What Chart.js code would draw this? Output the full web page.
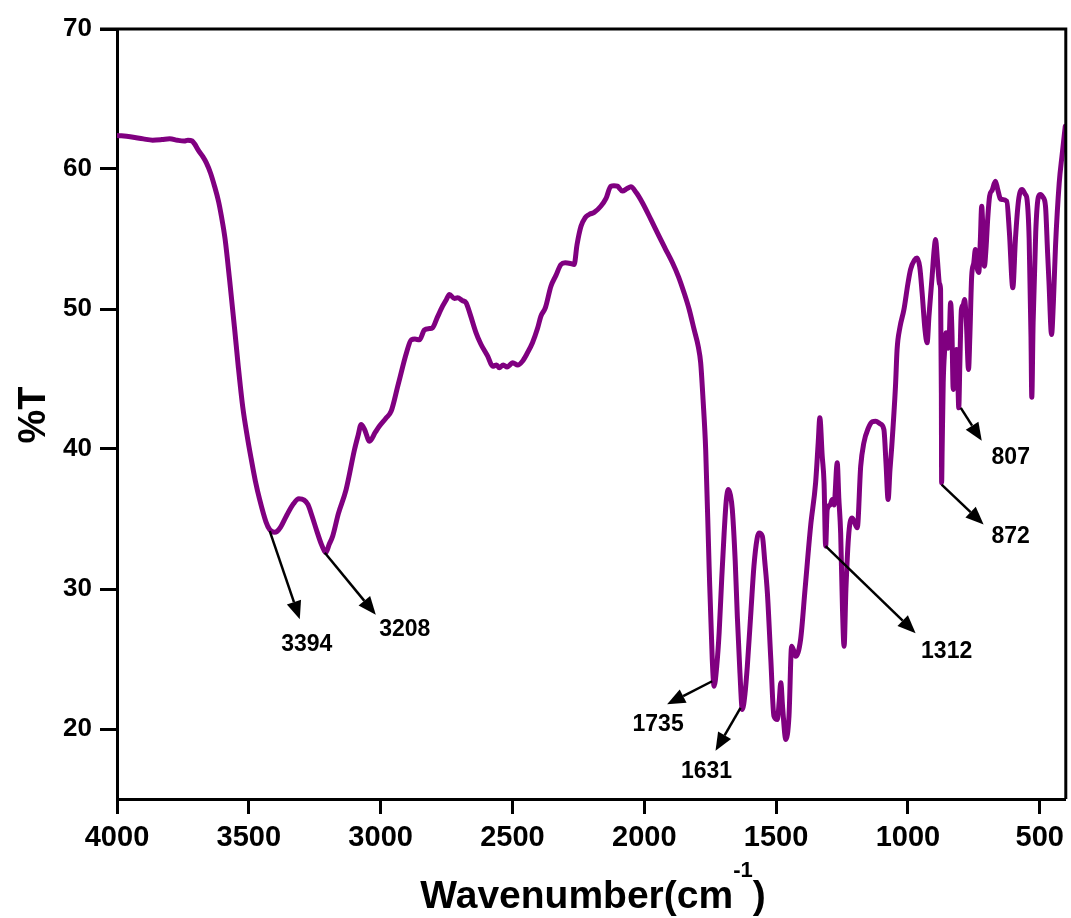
<!DOCTYPE html>
<html>
<head>
<meta charset="utf-8">
<script src="https://cdn.jsdelivr.net/npm/chart.js@4.4.1/dist/chart.umd.min.js"></script>
<style>
  html, body { margin: 0; padding: 0; background: #ffffff; }
  #wrap { width: 1071px; height: 918px; position: relative; }
</style>
</head>
<body>
<div id="wrap"><canvas id="c" width="1071" height="918"></canvas></div>
<script>
// ---------------- DATA ----------------
const wavenumbers = [
  4000, 3950, 3900, 3865, 3830, 3800, 3770, 3745, 3731, 3715, 3706, 3690, 3675, 3661, 3645, 3630, 3615, 3604, 3590, 3573,
  3554, 3540, 3523, 3505, 3491, 3475, 3459, 3435, 3421, 3402, 3394, 3380, 3358, 3330, 3310, 3290, 3276, 3260, 3244, 3225,
  3213, 3208, 3195, 3182, 3160, 3131, 3099, 3085, 3074, 3061, 3042, 3020, 3005, 2980, 2960, 2935, 2916, 2903, 2884, 2870,
  2853, 2834, 2815, 2803, 2785, 2765, 2750, 2739, 2720, 2708, 2690, 2676, 2660, 2638, 2620, 2594, 2575, 2560, 2550, 2535,
  2520, 2510, 2499, 2480, 2462, 2445, 2424, 2405, 2392, 2375, 2354, 2335, 2316, 2300, 2280, 2266, 2255, 2240, 2225, 2209,
  2190, 2165, 2145, 2127, 2115, 2102, 2083, 2065, 2051, 2030, 2007, 1975, 1944, 1920, 1893, 1870, 1849, 1830, 1811, 1795,
  1786, 1777, 1767, 1754, 1742, 1735, 1725, 1716, 1706, 1697, 1689, 1681, 1673, 1666, 1655, 1647, 1637, 1628, 1618, 1609,
  1595, 1584, 1572, 1565, 1552, 1543, 1533, 1520, 1508, 1495, 1488, 1482, 1475, 1463, 1451, 1441, 1433, 1426, 1407, 1390,
  1369, 1350, 1340, 1334, 1325, 1318, 1312, 1306, 1295, 1287, 1280, 1268, 1262, 1255, 1248, 1242, 1235, 1224, 1211, 1192,
  1179, 1167, 1150, 1135, 1122, 1105, 1091, 1083, 1075, 1068, 1062, 1047, 1041, 1030, 1015, 1000, 990, 975, 965, 955,
  946, 935, 927, 920, 908, 900, 895, 888, 880, 876, 873, 872, 870, 866, 860, 855, 848, 843, 838, 833,
  828, 822, 816, 810, 807, 803, 797, 790, 785, 778, 770, 765, 758, 750, 744, 738, 731, 725, 720, 716,
  710, 703, 697, 690, 680, 668, 660, 650, 643, 625, 615, 602, 592, 580, 567, 555, 548, 540, 533, 530,
  525, 515, 505, 497, 488, 478, 470, 465, 455, 448, 440, 426, 415, 403
];
const transmittance = [
  62.4, 62.3, 62.15, 62.06, 62.1, 62.16, 62.05, 62.0, 62.06, 62.0, 61.8, 61.3, 60.9, 60.44, 59.7, 58.77, 57.7, 56.63, 55.0, 52.1,
  48.6, 45.9, 43.0, 40.8, 39.3, 37.7, 36.4, 34.8, 34.25, 34.06, 34.1, 34.4, 35.2, 36.1, 36.44, 36.35, 36.04, 35.2, 34.25, 33.2,
  32.7, 32.6, 33.2, 33.77, 35.4, 37.1, 39.96, 41.0, 41.75, 41.39, 40.56, 41.2, 41.63, 42.2, 42.7, 44.49, 45.9, 46.8, 47.8, 47.85,
  47.8, 48.5, 48.6, 48.66, 49.4, 50.2, 50.7, 51.04, 50.75, 50.8, 50.6, 50.44, 49.6, 48.3, 47.5, 46.63, 45.91, 46.0, 45.8, 46.0,
  45.85, 46.0, 46.16, 46.0, 46.27, 46.8, 47.59, 48.6, 49.49, 50.1, 51.63, 52.4, 53.18, 53.3, 53.25, 53.18, 54.6, 55.91, 56.5, 56.75,
  56.9, 57.34, 57.9, 58.77, 58.8, 58.77, 58.42, 58.6, 58.73, 58.3, 57.59, 56.4, 55.2, 54.3, 53.3, 52.3, 51.16, 50.0, 48.54, 47.3,
  46.16, 43.54, 39.96, 31.63, 24.96, 23.06, 24.5, 26.87, 30.8, 34.0, 36.3, 37.11, 36.7, 35.68, 32.0, 28.06, 24.0, 21.39, 22.5, 24.49,
  28.5, 31.63, 33.6, 34.0, 33.77, 32.0, 29.73, 25.0, 20.92, 20.68, 22.0, 23.3, 21.5, 19.25, 20.92, 25.91, 25.6, 25.2, 26.39, 30.0,
  34.49, 37.59, 40.5, 42.23, 39.5, 37.59, 33.06, 35.68, 36.0, 36.39, 36.0, 39.01, 36.5, 34.0, 28.5, 25.91, 30.0, 34.0, 35.08, 34.37,
  38.77, 40.44, 41.5, 41.95, 41.99, 41.8, 41.39, 39.0, 36.39, 38.5, 39.96, 44.5, 47.1, 48.7, 49.96, 51.8, 52.82, 53.5, 53.65, 53.0,
  51.16, 48.5, 47.59, 49.5, 52.35, 54.3, 54.96, 53.5, 51.8, 51.39, 44.0, 37.59, 40.0, 44.7, 47.2, 48.3, 47.2, 48.0, 50.44, 48.5,
  44.25, 46.0, 47.11, 44.5, 42.94, 46.0, 49.96, 50.3, 50.68, 49.0, 45.68, 48.0, 52.35, 53.3, 54.25, 53.0, 52.6, 55.0, 57.34, 56.0,
  53.06, 54.5, 56.5, 58.06, 58.5, 59.13, 58.6, 57.9, 57.82, 57.7, 55.5, 51.51, 55.0, 57.8, 58.54, 58.2, 57.82, 55.0, 48.0, 43.7,
  49.0, 55.5, 58.0, 58.18, 58.0, 57.34, 54.0, 52.0, 48.18, 50.5, 54.5, 59.0, 61.0, 63.06
];
const xTickValues = [4000, 3500, 3000, 2500, 2000, 1500, 1000, 500];
const yTickValues = [20, 30, 40, 50, 60, 70];
const peakLabels = ['3394', '3208', '1735', '1631', '1312', '872', '807'];
const peakWavenumbers = [3394, 3208, 1735, 1631, 1312, 872, 807];
const peakTransmittance = [34.13, 32.59, 23.41, 21.51, 33.06, 37.46, 42.94];
const xTitle = 'Wavenumber(cm';
const xTitleSup = '-1';
const yTitle = '%T';

// ---------------- LAYOUT / STYLE ----------------
// pixel offsets relative to the peak point: [startDx, tipDx, tipDy, labelDx, labelDy]
const arrowLayout = [
  [-7, 23, 88, 30, 113],
  [-1, 50, 62, 79, 77],
  [-2, -47, 23, -56, 43],
  [-1, -26, 43, -35, 64],
  [0, 90, 87, 121, 105],
  [0, 42, 40, 69, 52],
  [2, 23, 33, 52, 50]
];
const FONT = "'Liberation Sans', Arial, Helvetica, sans-serif";
const LINE_COLOR = '#800080';

const points = wavenumbers.map((w, i) => ({ x: w, y: transmittance[i] }));

const annotationPlugin = {
  id: 'irAnnotations',
  afterDraw(chart) {
    const ctx = chart.ctx;
    const xs = chart.scales.x, ys = chart.scales.y;
    const ca = chart.chartArea;
    ctx.save();
    // box top and right
    ctx.strokeStyle = '#000';
    ctx.lineWidth = 3;
    ctx.beginPath();
    ctx.moveTo(ca.left - 17, ca.top);
    ctx.lineTo(ca.right, ca.top);
    ctx.lineTo(ca.right, ca.bottom);
    ctx.stroke();

    // arrows
    peakWavenumbers.forEach((w, i) => {
      const px = xs.getPixelForValue(w);
      const py = ys.getPixelForValue(peakTransmittance[i]);
      const [sdx, tdx, tdy, ldx, ldy] = arrowLayout[i];
      const sx = px + sdx, sy = py;
      const tx = px + tdx, ty = py + tdy;
      const ang = Math.atan2(ty - sy, tx - sx);
      const headLen = 18, headW = 7.5;
      const bx = tx - headLen * Math.cos(ang), by = ty - headLen * Math.sin(ang);
      ctx.strokeStyle = '#000';
      ctx.fillStyle = '#000';
      ctx.lineWidth = 2.5;
      ctx.beginPath();
      ctx.moveTo(sx, sy);
      ctx.lineTo(bx, by);
      ctx.stroke();
      ctx.beginPath();
      ctx.moveTo(tx, ty);
      ctx.lineTo(bx + headW * Math.sin(ang), by - headW * Math.cos(ang));
      ctx.lineTo(bx - headW * Math.sin(ang), by + headW * Math.cos(ang));
      ctx.closePath();
      ctx.fill();
      ctx.font = 'bold 23px ' + FONT;
      ctx.textAlign = 'center';
      ctx.textBaseline = 'middle';
      ctx.fillText(peakLabels[i], px + ldx, py + ldy);
    });

    // x title
    ctx.fillStyle = '#000';
    ctx.textBaseline = 'alphabetic';
    ctx.font = 'bold 39px ' + FONT;
    const mainW = ctx.measureText(xTitle).width;
    ctx.font = 'bold 22px ' + FONT;
    const supW = ctx.measureText(xTitleSup).width;
    ctx.font = 'bold 39px ' + FONT;
    const closeW = ctx.measureText(')').width;
    const total = mainW + supW + closeW;
    let x0 = 593 - total / 2;
    const base = 908;
    ctx.textAlign = 'left';
    ctx.fillText(xTitle, x0, base);
    ctx.font = 'bold 22px ' + FONT;
    ctx.fillText(xTitleSup, x0 + mainW, base - 31);
    ctx.font = 'bold 39px ' + FONT;
    ctx.fillText(')', x0 + mainW + supW, base);

    // y title
    ctx.save();
    ctx.translate(35, 415);
    ctx.rotate(-Math.PI / 2);
    ctx.font = 'bold 38px ' + FONT;
    ctx.textAlign = 'center';
    ctx.textBaseline = 'middle';
    ctx.fillText(yTitle, 0, 0);
    ctx.restore();
    ctx.restore();
  }
};

new Chart(document.getElementById('c'), {
  type: 'line',
  data: {
    datasets: [{
      data: points,
      borderColor: LINE_COLOR,
      borderWidth: 5,
      pointRadius: 0,
      fill: false,
      cubicInterpolationMode: 'monotone',
      borderJoinStyle: 'round',
      borderCapStyle: 'round'
    }]
  },
  options: {
    responsive: false,
    animation: false,
    parsing: true,
    layout: { padding: { left: 0, top: 29, right: 4, bottom: 0 } },
    plugins: { legend: { display: false }, tooltip: { enabled: false }, title: { display: false } },
    scales: {
      x: {
        type: 'linear',
        reverse: true,
        min: 401,
        max: 4000,
        afterBuildTicks: (s) => { s.ticks = xTickValues.map(v => ({ value: v })); },
        afterFit: (s) => { s.height = 119; },
        ticks: {
          color: '#000',
          font: { family: FONT, size: 29, weight: 'bold' },
          padding: 7,
          maxRotation: 0,
          autoSkip: false,
          callback: (v) => String(v)
        },
        grid: { drawOnChartArea: false, drawTicks: true, tickLength: 15, tickWidth: 3, tickColor: '#000' },
        border: { display: true, color: '#000', width: 3 },
        title: { display: false }
      },
      y: {
        type: 'linear',
        min: 15,
        max: 70,
        afterBuildTicks: (s) => { s.ticks = yTickValues.map(v => ({ value: v })); },
        afterFit: (s) => { s.width = 117; },
        ticks: {
          color: '#000',
          font: { family: FONT, size: 26, weight: 'bold' },
          padding: 8,
          autoSkip: false,
          callback: (v) => String(v)
        },
        grid: { drawOnChartArea: false, drawTicks: true, tickLength: 17, tickWidth: 3, tickColor: '#000' },
        border: { display: true, color: '#000', width: 3 },
        title: { display: false }
      }
    }
  },
  plugins: [annotationPlugin]
});
</script>
</body>
</html>
